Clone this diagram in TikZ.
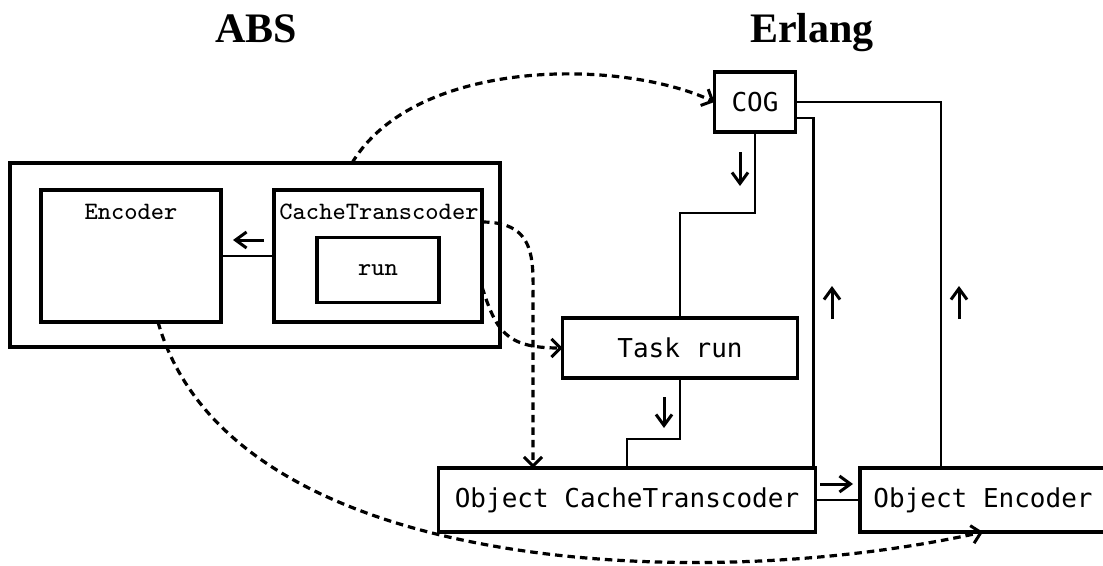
\documentclass[tikz,border=0pt]{standalone}
\usepackage{fontspec}
\setmainfont{Liberation Serif}
\newfontfamily\sansmono{DejaVu Sans Mono}
\newfontfamily\absmono[Extension=.otf]{lmmono8-regular}
\usetikzlibrary{arrows.meta}
\begin{document}
\begin{tikzpicture}[x=1pt,y=-1pt,
  box/.style={draw,line width=3.8pt,inner sep=0pt,outer sep=0pt},
  absfont/.style={font=\absmono\fontsize{25}{30}\selectfont},
  absbox/.style={box,absfont},
  erlbox/.style={box,font=\sansmono\fontsize{26}{30}\selectfont},
  link/.style={line width=2.4pt},
  hint/.style={line width=3pt,-{Straight Barb[length=11pt,width=16pt,line width=3pt]}},
  flow/.style={line width=3.2pt,dash pattern=on 7.5pt off 5pt,
    -{Straight Barb[length=9pt,width=18pt,line width=3pt]}},
  title/.style={font=\bfseries\fontsize{42}{48}\selectfont,anchor=base}]
\clip (0,0) rectangle (1103,565);

% headings
\node[title] (habs) at (256,42) {ABS};
\node[title] (herl) at (812,42) {Erlang};

% ABS side
\node[box,minimum width=490,minimum height=184] (outer) at (255,255) {};
\node[box,minimum width=180,minimum height=132] (enc) at (131,256) {};
\node[box,minimum width=208,minimum height=132] (ct) at (378,256) {};
\node[absbox,minimum width=122,minimum height=65] (run) at (378,270) {run};
\node[absfont,anchor=base] (encl) at (131,219) {Encoder};
\node[absfont,anchor=base] (ctl) at (379,219) {CacheTranscoder};

% Erlang side
\node[erlbox,minimum width=81,minimum height=60] (cog) at (755,102) {COG};
\node[erlbox,minimum width=235,minimum height=60] (task) at (680,348) {Task run};
\node[erlbox,minimum width=377,minimum height=64] (oct) at (627,500) {Object CacheTranscoder};
\node[erlbox,minimum width=246,minimum height=64] (oenc) at (983,500) {Object Encoder};

% links
\draw[link] (ct.west) -- (enc.east);
\draw[link] (cog.south) -- ++(0,81) -| (task.north);
\draw[link] (task.south) -- ++(0,61) -| (oct.north);
\draw[link] (cog.east) -| ([xshift=81]oenc.north west);
\draw[link] ([yshift=-16]cog.east) -| ([xshift=-2]oct.north east);
\draw[link] (oct.east) -- (oenc.west);

% direction hints
\coordinate (a1s) at (264,240); \coordinate (a1e) at (233,240);
\coordinate (a2s) at (740,152); \coordinate (a2e) at (740,186);
\coordinate (a3s) at (664,397); \coordinate (a3e) at (664,428);
\coordinate (a4s) at (832,319); \coordinate (a4e) at (832,286);
\coordinate (a5s) at (959,319); \coordinate (a5e) at (959,286);
\coordinate (a6s) at (820,484); \coordinate (a6e) at (853,484);
\draw[hint] (a1s) -- (a1e);
\draw[hint] (a2s) -- (a2e);
\draw[hint] (a3s) -- (a3e);
\draw[hint] (a4s) -- (a4e);
\draw[hint] (a5s) -- (a5e);
\draw[hint] (a6s) -- (a6e);

% mappings from ABS to Erlang
\draw[flow] ([xshift=97]outer.north) .. controls (415,58) and (620,58) .. (cog.west);
\draw[flow] ([yshift=34]ct.east) .. controls (538,222) and (533,262) .. (533,305) -- ([xshift=-94]oct.north);
\draw[flow] ([yshift=-31]ct.east) .. controls (496,330) and (505,348) .. (task.west);
\draw[flow] ([xshift=27]enc.south) .. controls (230,575) and (700,595) .. (oenc.south);
\end{tikzpicture}
\end{document}
